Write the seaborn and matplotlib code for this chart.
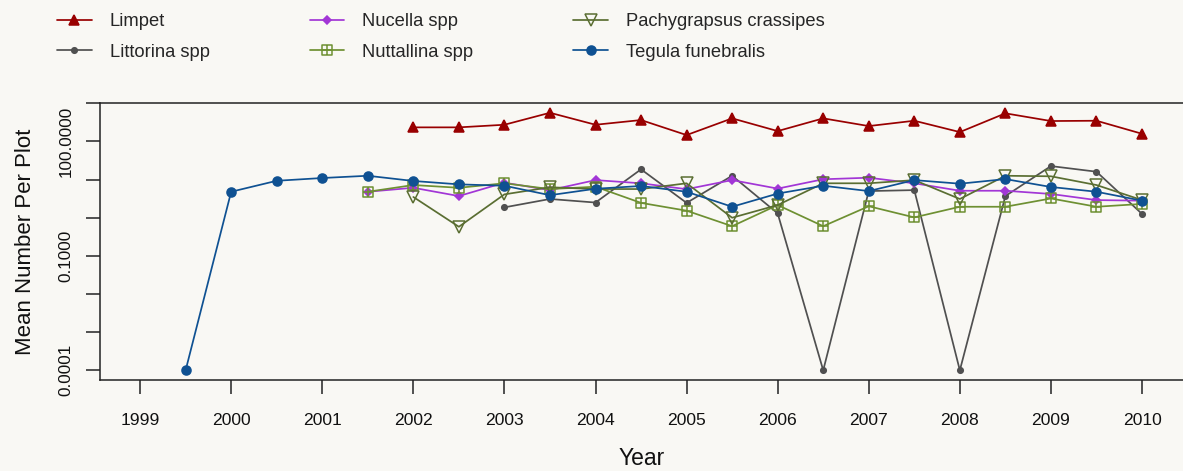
import numpy as np
import pandas as pd
import matplotlib
matplotlib.use("Agg")
import matplotlib.pyplot as plt
from matplotlib.path import Path
from matplotlib.ticker import FixedLocator, FixedFormatter, NullLocator
import seaborn as sns

# ---------------- data ----------------
years = [1999.5, 2000.0, 2000.5, 2001.0, 2001.5, 2002.0, 2002.5, 2003.0, 2003.5,
         2004.0, 2004.5, 2005.0, 2005.5, 2006.0, 2006.5, 2007.0, 2007.5, 2008.0,
         2008.5, 2009.0, 2009.5, 2010.0]
year_ticks = [1999, 2000, 2001, 2002, 2003, 2004, 2005, 2006, 2007, 2008, 2009, 2010]

limpet = [None, None, None, None, None,
          234, 234, 274, 565, 274, 364, 147, 403, 187, 403, 253, 349, 176, 546, 343, 349, 159]
littorina = [None, None, None, None, None, None, None,
             1.87, 3.1, 2.5, 18.6, 2.45, 12.6, 1.3, 0.0001, 5.0, 5.3, 0.0001, 3.7, 22.6, 16.1, 1.26]
nucella = [None, None, None, None,
           4.8, 6.1, 3.7, 8.3, 5.3, 9.7, 8.0, 5.6, 9.7, 5.8, 10.2, 11.2, 8.0, 5.1, 5.1, 4.2, 2.9, 2.8]
nuttallina = [None, None, None, None,
              4.8, 7.2, 6.1, 8.0, 5.65, 6.5, 2.45, 1.53, 0.6, 2.15, 0.6, 2.0, 1.02, 1.94, 1.94, 3.2, 1.94, 2.3]
pachygrapsus = [None, None, None, None, None,
                3.5, 0.58, 4.1, 6.3, 5.65, 5.65, 8.0, 1.0, 2.15, 8.0, 8.0, 9.7, 3.1, 12.6, 12.2, 7.2, 2.9]
tegula = [0.0001, 4.8, 9.3, 11.0, 12.6, 9.2, 7.5, 6.9, 3.9, 5.75, 6.8, 4.8, 1.94, 4.3, 6.9, 5.0,
          9.7, 7.8, 10.3, 6.4, 4.8, 2.8]

species = ["Limpet", "Littorina spp", "Nucella spp", "Nuttallina spp",
           "Pachygrapsus crassipes", "Tegula funebralis"]
series = [limpet, littorina, nucella, nuttallina, pachygrapsus, tegula]

ytick_vals = [0.0001, 0.001, 0.01, 0.1, 1, 10, 100, 1000]
ytick_labels = ["0.0001", "", "", "0.1000", "", "", "100.0000", ""]

# ---------------- style ----------------
bg = "#F9F8F4"
sns.set_style("ticks")
plt.rcParams["font.family"] = ["Liberation Sans", "DejaVu Sans"]
plt.rcParams["axes.linewidth"] = 1.1

# square with a plus inside (open)
sq_plus = Path(
    [(-1, -1), (1, -1), (1, 1), (-1, 1), (-1, -1), (0, -1), (0, 1), (-1, 0), (1, 0)],
    [Path.MOVETO, Path.LINETO, Path.LINETO, Path.LINETO, Path.CLOSEPOLY,
     Path.MOVETO, Path.LINETO, Path.MOVETO, Path.LINETO])

styles = {
    "Limpet": dict(color="#990000", marker="^", markersize=7, mfc="#990000", mec="#990000"),
    "Littorina spp": dict(color="#505050", marker="o", markersize=4, mfc="#505050", mec="#505050"),
    "Nucella spp": dict(color="#A236D6", marker="D", markersize=3.6, mfc="#A236D6", mec="#A236D6"),
    "Nuttallina spp": dict(color="#6E9032", marker=sq_plus, markersize=7, mfc="none", mec="#6E9032"),
    "Pachygrapsus crassipes": dict(color="#5A6E32", marker="v", markersize=8, mfc="none", mec="#5A6E32"),
    "Tegula funebralis": dict(color="#0F5192", marker="o", markersize=6.5, mfc="#0F5192", mec="#0F5192"),
}

fig = plt.figure(figsize=(11.83, 4.71), dpi=100, facecolor=bg)
ax = fig.add_axes([100 / 1183, (471 - 380) / 471, 1 - 100 / 1183, (380 - 103.3) / 471])
ax.set_facecolor(bg)

for name, vals in zip(species, series):
    df = pd.DataFrame({"Year": years, "Value": [np.nan if v is None else v for v in vals]}).dropna()
    st = styles[name]
    sns.lineplot(data=df, x="Year", y="Value", ax=ax, label=name, errorbar=None,
                 color=st["color"], marker=st["marker"], markersize=st["markersize"],
                 markerfacecolor=st["mfc"], markeredgecolor=st["mec"],
                 markeredgewidth=1.1, linewidth=1.25)

ax.set_yscale("log")
ax.set_ylim(10 ** -4.254, 1000)
ax.set_xlim(1998.56, 2010.45)
ax.yaxis.set_major_locator(FixedLocator(ytick_vals))
ax.yaxis.set_major_formatter(FixedFormatter(ytick_labels))
ax.yaxis.set_minor_locator(NullLocator())
ax.set_xticks(year_ticks)
ax.set_xticklabels([str(y) for y in year_ticks])

ax.tick_params(axis="x", length=10, width=1.1, pad=14, labelsize=12.6, colors="#222222", labelcolor="#111111")
ax.tick_params(axis="y", length=10, width=1.1, pad=9, labelsize=12.3, labelrotation=90, colors="#222222", labelcolor="#111111")
for lab in ax.get_yticklabels():
    lab.set_va("center")

ax.spines["right"].set_visible(False)
for s in ["left", "top", "bottom"]:
    ax.spines[s].set_color("#222222")

ax.set_xlabel("Year", fontsize=16.5, labelpad=13.5, color="#111111")
ax.set_ylabel("Mean Number Per Plot", fontsize=16, labelpad=16, color="#111111")

ax.get_legend().remove()
handles, labels = ax.get_legend_handles_labels()
fig.legend(handles, labels, loc="upper left", bbox_to_anchor=(57 / 1183, 1 - 13 / 471),
           ncol=3, frameon=False, fontsize=13.2, handlelength=1.9, handletextpad=0.97,
           columnspacing=5.45, labelspacing=0.74, borderpad=0, borderaxespad=0, numpoints=1)

fig.savefig("out.png", dpi=100, facecolor=bg)
